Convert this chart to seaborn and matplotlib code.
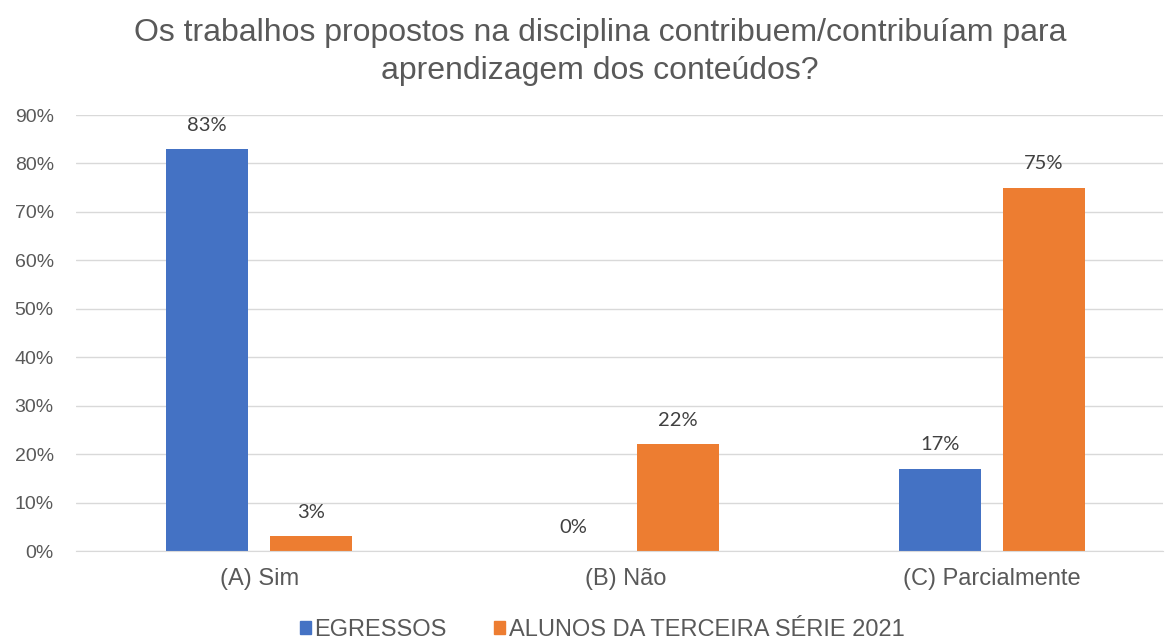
import matplotlib
matplotlib.use("Agg")
import matplotlib.pyplot as plt
import seaborn as sns
import pandas as pd

# dados do gráfico
categorias = ["(A) Sim", "(B) Não", "(C) Parcialmente"]
series = ["EGRESSOS", "ALUNOS DA TERCEIRA SÉRIE 2021"]
egressos = [0.83, 0.00, 0.17]
alunos = [0.03, 0.22, 0.75]
yticks = [0, 0.1, 0.2, 0.3, 0.4, 0.5, 0.6, 0.7, 0.8, 0.9]

df = pd.DataFrame({
    "Resposta": categorias * 2,
    "Grupo": [series[0]] * 3 + [series[1]] * 3,
    "Valor": egressos + alunos,
})

sns.set_style("white")
plt.rcParams["font.family"] = ["Liberation Sans", "DejaVu Sans"]

fig = plt.figure(figsize=(11.65, 6.41), dpi=100)
ax = fig.add_axes([76 / 1165, 90 / 641, 1087 / 1165, 436 / 641])

sns.barplot(data=df, x="Resposta", y="Valor", hue="Grupo",
            palette=["#4472C4", "#ED7D31"], width=0.57, gap=0.215,
            saturation=1, linewidth=0, ax=ax, legend=False)

# rótulos de dados
for cont in ax.containers:
    ax.bar_label(cont, labels=[f"{v*100:.0f}%" for v in cont.datavalues],
                 padding=11, fontsize=14.5, color="#404040", family="Lato")

ax.set_ylim(0, 0.9)
ax.set_xlim(-0.5, 2.467)
ax.set_yticks(yticks)
ax.set_yticklabels([f"{t*100:.0f}%" for t in yticks])
ax.tick_params(axis="both", length=0, colors="#595959")
ax.tick_params(axis="y", labelsize=14, pad=16)
ax.tick_params(axis="x", labelsize=17, pad=12)
ax.yaxis.grid(True, color="#D9D9D9", linewidth=1)
ax.set_axisbelow(True)
ax.set_xlabel("")
ax.set_ylabel("")
for s in ["top", "right", "left"]:
    ax.spines[s].set_visible(False)
ax.spines["bottom"].set_color("#D9D9D9")

fig.suptitle("Os trabalhos propostos na disciplina contribuem/contribuíam para\naprendizagem dos conteúdos?",
             x=600 / 1165, y=0.972, va="top", fontsize=23, color="#595959",
             linespacing=1.35)

handles = [plt.Rectangle((0, 0), 1, 1, color=c) for c in ["#4472C4", "#ED7D31"]]
fig.legend(handles, series, loc="lower center", ncol=2, frameon=False,
           bbox_to_anchor=(602 / 1165, -0.033), fontsize=17, labelcolor="#595959",
           handlelength=0.47, handleheight=0.47, handletextpad=0.15, columnspacing=2.0)

fig.savefig("out.png", dpi=100)
